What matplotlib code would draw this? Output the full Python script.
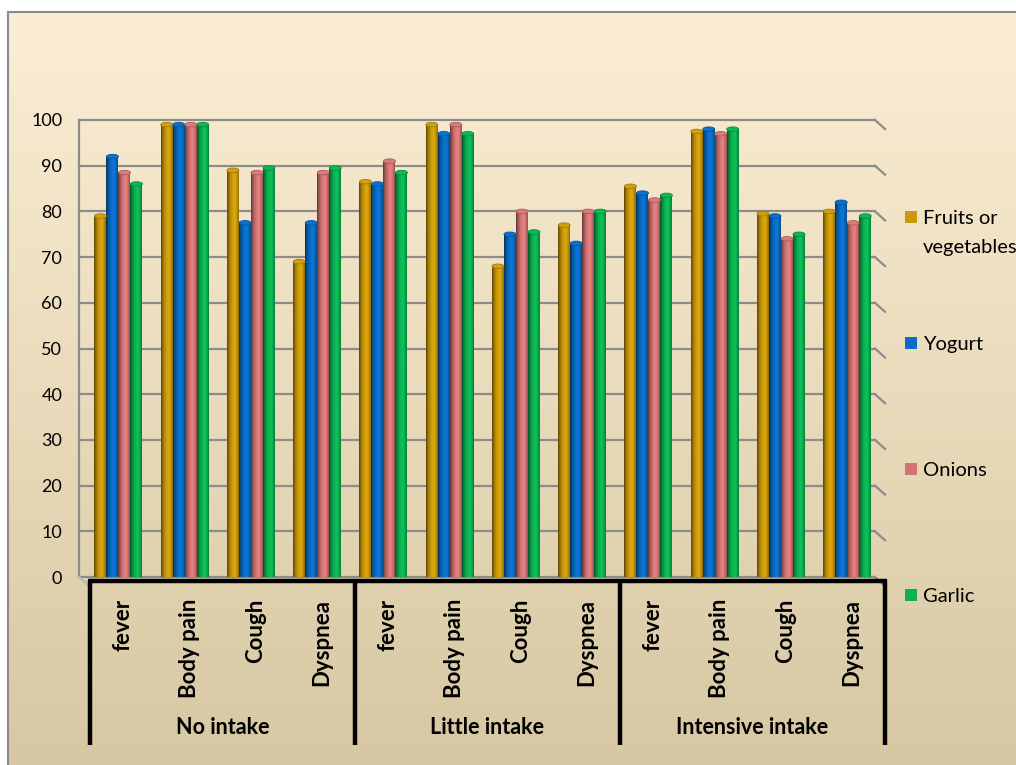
"""
Symptom scores by intake level - 3D-ish cylinder bar chart
"""
import matplotlib.pyplot as plt
import matplotlib.transforms as mtransforms
from matplotlib.patches import Ellipse, Rectangle
import numpy as np

# data
symptoms = ["fever", "Body pain", "Cough", "Dyspnea"] * 3
groups = ["No intake", "Little intake", "Intensive intake"]
series = ["Fruits or\nvegetables", "Yogurt", "Onions", "Garlic"]
fruits = [79, 99, 89, 69, 86.5, 99, 68, 77, 85.5, 97.5, 79.5, 80]
yogurt = [92, 99, 77.5, 77.5, 86, 97, 75, 73, 84, 98, 79, 82]
onions = [88.5, 99, 88.5, 88.5, 91, 99, 80, 80, 82.5, 97, 74, 77.5]
garlic = [86, 99, 89.5, 89.5, 88.5, 97, 75.5, 80, 83.5, 98, 75, 79]
yticks = list(range(0, 101, 10))

colors = ["#C9980B", "#0A6CC4", "#D27474", "#0BB050"]
values = [fruits, yogurt, onions, garlic]

W, H, DPI = 1016, 765, 100
fig = plt.figure(figsize=(W / DPI, H / DPI), dpi=DPI, facecolor="white")
plt.rcParams["font.family"] = ["Lato", "DejaVu Sans"]


def fx(px):
    return px / W


def fy(py):
    return 1 - py / H


# background panel with vertical gradient
bg = fig.add_axes([fx(8), 0, 1 - fx(8), fy(12)], zorder=-5)
top = np.array([252, 238, 212]) / 255
bot = np.array([215, 200, 163]) / 255
t = np.linspace(0, 1, 256)[:, None]
grad = (top * (1 - t) + bot * t)[:, None, :]
bg.imshow(grad, aspect="auto", extent=(0, 1, 0, 1))
bg.set_xticks([])
bg.set_yticks([])
for side in ["right", "bottom"]:
    bg.spines[side].set_visible(False)
for side in ["top", "left"]:
    bg.spines[side].set_color("#8C8C8C")
    bg.spines[side].set_linewidth(1.5)

# main plot area (back wall)
x_left, x_right = 90, 885       # category span in pixels
px_per = (x_right - x_left) / 12
wall_l, wall_r = 79, 875
y0, y100 = 577, 120
ax = fig.add_axes([fx(wall_l), fy(y0), fx(wall_r - wall_l), (y0 - y100) / H])
ax.patch.set_alpha(0)
xmin = (wall_l - x_left) / px_per
xmax = (wall_r - x_left) / px_per
ax.set_xlim(xmin, xmax)
ax.set_ylim(0, 100)
unit_y = (y0 - y100) / 100.0

ax.set_yticks(yticks)
ax.set_yticklabels([str(v) for v in yticks], fontsize=13)
ax.tick_params(axis="y", length=0, pad=12)
ax.set_xticks([])
for s in ax.spines.values():
    s.set_visible(False)

grid_c = "#8C8C8C"
dx, dy = 10 / px_per, 9 / unit_y
for v in yticks:
    ax.plot([xmin, xmax], [v, v], color=grid_c, lw=1.6, clip_on=False, zorder=1)
    ax.plot([xmax, xmax + dx], [v, v - dy], color=grid_c, lw=1.6,
            clip_on=False, zorder=1)
ax.plot([xmin, xmin], [0, 100], color=grid_c, lw=1.6, clip_on=False, zorder=1)
ax.plot([xmin, xmin + dx], [0, -dy], color="#BBBBBB", lw=1.6, clip_on=False, zorder=1)

# cylinder bars
bw = 12 / px_per
shift = 0.43
profile_t = [0.0, 0.15, 0.4, 0.65, 0.85, 1.0]
profile_f = [0.45, 0.75, 1.0, 1.12, 0.95, 0.7]
xs = np.arange(12)
for k, (vals, col) in enumerate(zip(values, colors)):
    base = np.array(plt.matplotlib.colors.to_rgb(col))
    tt = np.linspace(0, 1, 32)
    f = np.interp(tt, profile_t, profile_f)
    row = np.clip(base[None, :] * f[:, None], 0, 1)[None, :, :]
    pos = xs + shift + (k - 1.5) * bw
    bars = ax.bar(pos, vals, width=bw, color=col, linewidth=0, zorder=3)
    for b, v in zip(bars, vals):
        x0 = b.get_x()
        im = ax.imshow(row, aspect="auto", extent=(x0, x0 + bw, 0, v),
                       zorder=3.5, interpolation="bilinear")
        im.set_clip_path(b)
        cap = Ellipse((x0 + bw / 2, v), bw, 4.5 / unit_y,
                      facecolor=np.clip(base * 1.05, 0, 1),
                      edgecolor=np.clip(base * 0.8, 0, 1), lw=0.6, zorder=4)
        ax.add_patch(cap)
ax.set_xlim(xmin, xmax)
ax.set_ylim(0, 100)

# category axis (below the plot)
tr = mtransforms.blended_transform_factory(ax.transData, fig.transFigure)
cx = lambda px: (px - x_left) / px_per
line_y = fy(581)
ax.plot([cx(88), cx(887)], [line_y, line_y], color="black", lw=3.2,
        transform=tr, clip_on=False, solid_capstyle="butt")
for g in range(4):
    xv = 4 * g
    ax.plot([xv, xv], [fy(580), fy(745)], color="black", lw=3.2,
            transform=tr, clip_on=False, solid_capstyle="butt")
for i, name in enumerate(symptoms):
    ax.text(i + 0.5, fy(599), name, rotation=90, ha="center", va="top",
            fontsize=16, fontweight="bold", transform=tr)
for g, name in enumerate(groups):
    ax.text(4 * g + 2, fy(728), name, ha="center", va="center",
            fontsize=15.5, fontweight="bold", transform=tr)

# legend
leg_y = [217, 343, 469, 595]
for name, col, y in zip(series, colors, leg_y):
    fig.patches.append(Rectangle((fx(905), fy(y + 6)), fx(12), 12 / H,
                                 transform=fig.transFigure, facecolor=col,
                                 edgecolor="none"))
    first = name.split("\n")[0]
    rest = name.split("\n")[1:]
    fig.text(fx(923), fy(y + 7), first, ha="left", va="baseline",
             fontsize=14.5)
    for j, line in enumerate(rest):
        fig.text(fx(923), fy(y + 7 + 29 * (j + 1)), line, ha="left",
                 va="baseline", fontsize=14.5)

fig.savefig("out.png", dpi=DPI)
